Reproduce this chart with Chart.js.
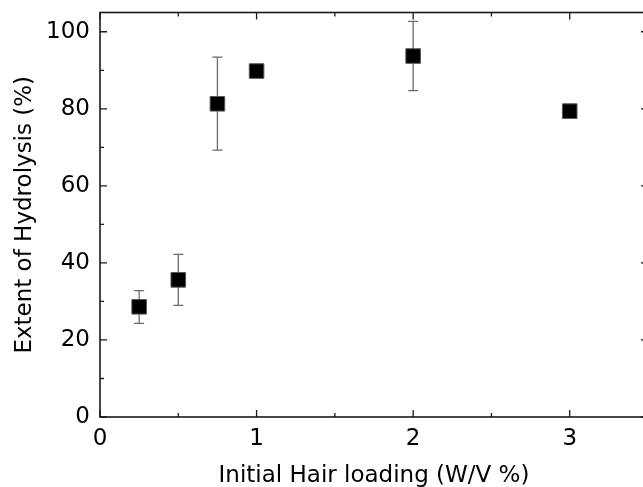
<!DOCTYPE html>
<html lang="en">
<head>
    <meta charset="UTF-8">
    <title>Extent of Hydrolysis</title>
    <script src="https://cdn.jsdelivr.net/npm/chart.js@4.4.0/dist/chart.umd.min.js"></script>
    <style>
        html, body { margin: 0; padding: 0; background: #fff; overflow: hidden; }
        #wrap { width: 643px; height: 487px; overflow: hidden; position: relative; }
        #main_chart { position: absolute; left: 0; top: 0; }
    </style>
</head>
<body>
<div id="wrap"><canvas id="main_chart" width="655" height="487"></canvas></div>
<script>
    // hair loading (W/V %) and extent of hydrolysis (%)
    const loading = [0.25, 0.5, 0.75, 1, 2, 3];
    const hydrolysis = [28.6, 35.6, 81.3, 89.8, 93.7, 79.4];
    const errUp = [4.2, 6.6, 12.1, 0, 9.0, 0];
    const errDown = [4.3, 6.6, 12.0, 0, 9.0, 0];
    const xMajor = [0, 1, 2, 3];
    const xMinor = [0.5, 1.5, 2.5, 3.5];
    const yMajor = [0, 20, 40, 60, 80, 100];
    const yMinor = [10, 30, 50, 70, 90];

    const FONT = {family: 'DejaVu Sans', size: 23};
    const AXIS_COLOR = '#1a1a1a';

    // frame with inward ticks on all four sides
    const framePlugin = {
        id: 'frame',
        afterDraw(chart) {
            const ctx = chart.ctx;
            const xs = chart.scales.x, ys = chart.scales.y;
            const a = chart.chartArea;
            ctx.save();
            ctx.strokeStyle = AXIS_COLOR;
            ctx.lineWidth = 1.6;
            ctx.strokeRect(a.left, a.top, a.right - a.left, a.bottom - a.top);
            ctx.lineWidth = 1.3;
            ctx.beginPath();
            const tickX = (vals, len) => vals.forEach(v => {
                const px = xs.getPixelForValue(v);
                ctx.moveTo(px, a.bottom); ctx.lineTo(px, a.bottom - len);
                ctx.moveTo(px, a.top); ctx.lineTo(px, a.top + len);
            });
            const tickY = (vals, len) => vals.forEach(v => {
                const py = ys.getPixelForValue(v);
                ctx.moveTo(a.left, py); ctx.lineTo(a.left + len, py);
                ctx.moveTo(a.right, py); ctx.lineTo(a.right - len, py);
            });
            tickX(xMajor, 7); tickX(xMinor, 4);
            tickY(yMajor, 7); tickY(yMinor, 4);
            ctx.stroke();
            ctx.restore();
        }
    };

    const errorBarPlugin = {
        id: 'errorBars',
        beforeDatasetsDraw(chart) {
            const ctx = chart.ctx;
            const xs = chart.scales.x, ys = chart.scales.y;
            ctx.save();
            ctx.strokeStyle = '#6a6a6a';
            ctx.lineWidth = 1.3;
            ctx.beginPath();
            loading.forEach((x, i) => {
                if (!errUp[i] && !errDown[i]) return;
                const px = xs.getPixelForValue(x);
                const top = ys.getPixelForValue(hydrolysis[i] + errUp[i]);
                const bot = ys.getPixelForValue(hydrolysis[i] - errDown[i]);
                ctx.moveTo(px, top); ctx.lineTo(px, bot);
                ctx.moveTo(px - 5, top); ctx.lineTo(px + 5, top);
                ctx.moveTo(px - 5, bot); ctx.lineTo(px + 5, bot);
            });
            ctx.stroke();
            ctx.restore();
        }
    };

    Chart.defaults.font.family = FONT.family;
    Chart.defaults.color = '#000';

    const canvas = document.getElementById('main_chart').getContext('2d');
    let chart = new Chart(canvas, {
        type: 'scatter',
        data: {
            datasets: [{
                data: loading.map((x, i) => ({x: x, y: hydrolysis[i]})),
                pointStyle: 'rect',
                pointRadius: 10.3,
                backgroundColor: '#000',
                borderColor: '#555',
                borderWidth: 1
            }]
        },
        options: {
            animation: false,
            responsive: false,
            devicePixelRatio: 1,
            layout: {autoPadding: false, padding: {top: 12.5, right: 7, left: 0, bottom: 0}},
            plugins: {legend: {display: false}, tooltip: {enabled: false}},
            scales: {
                x: {
                    type: 'linear', min: 0, max: 3.5,
                    afterBuildTicks: s => { s.ticks = xMajor.map(v => ({value: v})); },
                    afterFit: s => { s.height = 70; s.paddingLeft = 0; s.paddingRight = 0; },
                    grid: {display: false, drawTicks: false},
                    border: {display: false},
                    ticks: {font: FONT, padding: 8, maxRotation: 0},
                    title: {display: true, text: 'Initial Hair loading (W/V %)', font: FONT, padding: {top: 0, bottom: -3}}
                },
                y: {
                    type: 'linear', min: 0, max: 105,
                    afterBuildTicks: s => { s.ticks = yMajor.map(v => ({value: v})); },
                    afterFit: s => { s.width = 100; s.paddingTop = 0; s.paddingBottom = 0; },
                    grid: {display: false, drawTicks: false},
                    border: {display: false},
                    ticks: {font: FONT, padding: 10},
                    title: {display: true, text: 'Extent of Hydrolysis (%)', font: FONT, padding: {top: 11, bottom: 0}}
                }
            }
        },
        plugins: [errorBarPlugin, framePlugin]
    });
</script>
</body>
</html>
